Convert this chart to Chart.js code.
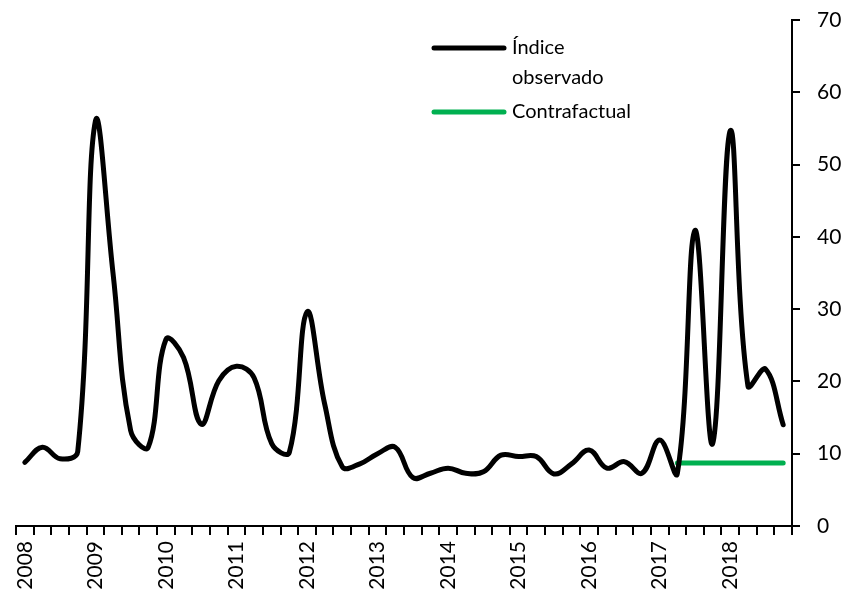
<!DOCTYPE html>
<html lang="es">
<head>
    <meta charset="UTF-8">
    <title>Índice observado vs contrafactual</title>
    <script src="https://cdn.jsdelivr.net/npm/chart.js"></script>
    <style>
        html, body { margin: 0; padding: 0; background: #ffffff; }
        #wrap { width: 846px; height: 597px; }
    </style>
</head>
<body>
    <div id="wrap"><canvas id="chart" width="846" height="597"></canvas></div>

    <script>
        // years shown on the axis, one label per first quarter
        const years = ['2008', '2009', '2010', '2011', '2012', '2013', '2014', '2015', '2016', '2017', '2018'];
        const categories = years.flatMap(y => [y, '', '', '']);

        // quarterly values
        const observed = [
            8.8, 10.9, 9.3, 10.3,
            56.0, 35.0, 13.2, 10.9,
            25.8, 23.3, 14.1, 20.1,
            22.1, 20.5, 11.4, 10.2,
            29.6, 16.9, 8.2, 8.6,
            10.0, 10.9, 6.7, 7.3,
            8.0, 7.3, 7.5, 9.8,
            9.6, 9.6, 7.2, 8.6,
            10.5, 8.0, 8.9, 7.3,
            11.9, 7.3, 40.9, 11.4,
            54.7, 19.4, 21.7, 14.0
        ];
        const counterfactual = [
            null, null, null, null, null, null, null, null, null, null, null,
            null, null, null, null, null, null, null, null, null, null, null,
            null, null, null, null, null, null, null, null, null, null, null,
            null, null, null, null, 8.7, 8.7, 8.7, 8.7, 8.7, 8.7, 8.7
        ];
        const yTicks = [0, 10, 20, 30, 40, 50, 60, 70];

        const legendText = [['Índice', 'observado'], ['Contrafactual']];
        const fontFamily = 'Lato, "Liberation Sans", sans-serif';

        // legend drawn inside the plot, top middle-right
        const legendPlugin = {
            id: 'insideLegend',
            afterDraw(chart) {
                const ctx = chart.ctx;
                ctx.save();
                ctx.font = '20px ' + fontFamily;
                ctx.textBaseline = 'middle';
                ctx.fillStyle = '#000000';
                let y = 48;
                chart.data.datasets.forEach((ds, k) => {
                    ctx.strokeStyle = ds.borderColor;
                    ctx.lineWidth = 5;
                    ctx.lineCap = 'round';
                    ctx.beginPath();
                    ctx.moveTo(434, y);
                    ctx.lineTo(504, y);
                    ctx.stroke();
                    legendText[k].forEach((line, j) => {
                        ctx.fillText(line, 512, y + j * 30);
                    });
                    y += legendText[k].length * 32;
                });
                ctx.restore();
            }
        };

        const ctx = document.getElementById('chart').getContext('2d');
        new Chart(ctx, {
            type: 'line',
            data: {
                labels: categories,
                datasets: [{
                    label: 'Índice observado',
                    data: observed,
                    borderColor: '#000000',
                    borderWidth: 5,
                    tension: 0.4,
                    pointRadius: 0,
                    borderCapStyle: 'round',
                    borderJoinStyle: 'round',
                    fill: false
                }, {
                    label: 'Contrafactual',
                    data: counterfactual,
                    borderColor: '#00B050',
                    borderWidth: 5,
                    tension: 0,
                    pointRadius: 0,
                    borderCapStyle: 'round',
                    fill: false
                }]
            },
            options: {
                responsive: false,
                animation: false,
                layout: { padding: { top: 20, left: 16, right: 0, bottom: 0 } },
                plugins: {
                    legend: { display: false },
                    tooltip: { enabled: false }
                },
                scales: {
                    x: {
                        offset: true,
                        grid: {
                            offset: true,
                            drawOnChartArea: false,
                            color: '#000000',
                            lineWidth: 2,
                            tickLength: 9
                        },
                        border: { color: '#000000', width: 2 },
                        ticks: {
                            autoSkip: false,
                            maxRotation: 90,
                            minRotation: 90,
                            color: '#000000',
                            padding: 6,
                            font: { family: fontFamily, size: 21 }
                        },
                        afterFit(scale) { scale.height = 71; }
                    },
                    y: {
                        position: 'right',
                        min: 0,
                        max: 70,
                        afterBuildTicks(scale) {
                            scale.ticks = yTicks.map(v => ({ value: v }));
                        },
                        grid: {
                            drawOnChartArea: false,
                            color: '#000000',
                            lineWidth: 2,
                            tickLength: 8
                        },
                        border: { color: '#000000', width: 2 },
                        ticks: {
                            color: '#000000',
                            padding: 17,
                            font: { family: fontFamily, size: 21 }
                        },
                        afterFit(scale) {
                            scale.width = 54;
                            // label padding should not push the plot down
                            scale.paddingTop = 12;
                            scale.paddingBottom = 12;
                        }
                    }
                }
            },
            plugins: [legendPlugin]
        });
    </script>
</body>
</html>
